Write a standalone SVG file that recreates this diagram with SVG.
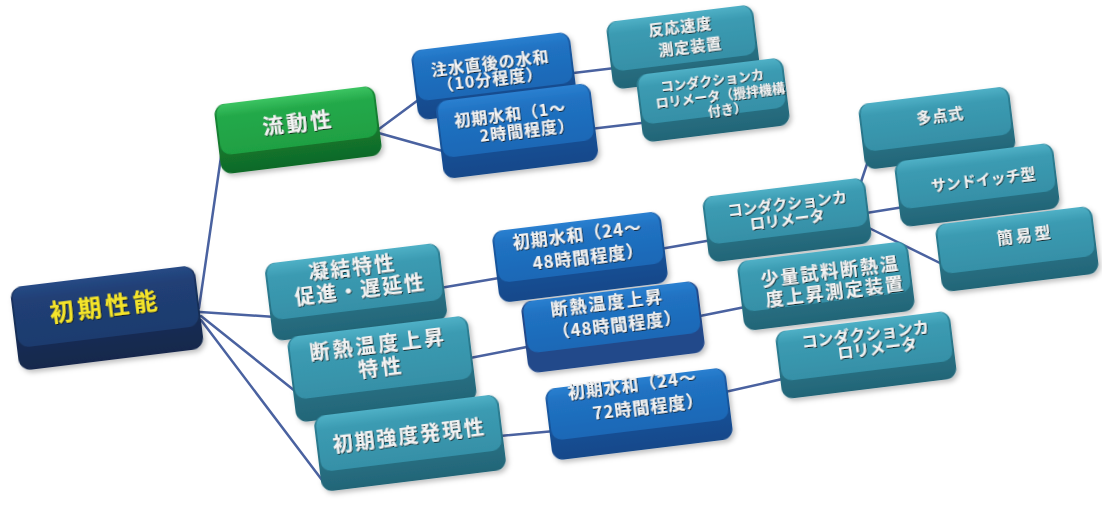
<svg xmlns="http://www.w3.org/2000/svg" width="1102" height="505" viewBox="0 0 1102 505">
<defs>
<linearGradient id="gTealTop" x1="0" y1="0" x2="0" y2="1"><stop offset="0" stop-color="#4fb0c6"/><stop offset="0.25" stop-color="#3b9bb2"/><stop offset="1" stop-color="#3690a7"/></linearGradient>
<linearGradient id="gTealBase" x1="0" y1="0" x2="0" y2="1"><stop offset="0" stop-color="#2f8499"/><stop offset="1" stop-color="#236577"/></linearGradient>
<linearGradient id="gBlueTop" x1="0" y1="0" x2="0" y2="1"><stop offset="0" stop-color="#2a80d0"/><stop offset="0.25" stop-color="#2072c2"/><stop offset="1" stop-color="#1d68b6"/></linearGradient>
<linearGradient id="gBlueBase" x1="0" y1="0" x2="0" y2="1"><stop offset="0" stop-color="#1b5ea8"/><stop offset="1" stop-color="#16488a"/></linearGradient>
<linearGradient id="gNavyTop" x1="0" y1="0" x2="0" y2="1"><stop offset="0" stop-color="#264a85"/><stop offset="0.25" stop-color="#203f75"/><stop offset="1" stop-color="#1e3b6e"/></linearGradient>
<linearGradient id="gNavyBase" x1="0" y1="0" x2="0" y2="1"><stop offset="0" stop-color="#1b3563"/><stop offset="1" stop-color="#14284c"/></linearGradient>
<linearGradient id="gGreenTop" x1="0" y1="0" x2="0" y2="1"><stop offset="0" stop-color="#3cc462"/><stop offset="0.25" stop-color="#24a94a"/><stop offset="1" stop-color="#1fa043"/></linearGradient>
<linearGradient id="gGreenBase" x1="0" y1="0" x2="0" y2="1"><stop offset="0" stop-color="#188c37"/><stop offset="1" stop-color="#106a28"/></linearGradient>
<filter id="tsh" x="-10%" y="-30%" width="120%" height="160%"><feDropShadow dx="0.8" dy="1" stdDeviation="0.6" flood-color="#111" flood-opacity="0.85"/></filter>
<filter id="bsh" x="-10%" y="-10%" width="125%" height="135%"><feDropShadow dx="2" dy="3" stdDeviation="2.5" flood-color="#000" flood-opacity="0.25"/></filter>
</defs>
<style>
.cn{stroke:#4a62a0;stroke-width:2.5;stroke-linecap:round;fill:none}
.t{font-family:"Noto Sans CJK JP","Noto Sans",sans-serif;font-weight:bold;fill:#f2f2f2;text-anchor:middle;dominant-baseline:central;filter:url(#tsh)}
.teal .b{fill:url(#gTealBase)} .teal .f{fill:url(#gTealTop)}
.blue .b{fill:url(#gBlueBase)} .blue .f{fill:url(#gBlueTop)}
.navy .b{fill:url(#gNavyBase)} .navy .f{fill:url(#gNavyTop)}
.green .b{fill:url(#gGreenBase)} .green .f{fill:url(#gGreenTop)}
.box{filter:url(#bsh)}
</style>
<rect width="1102" height="505" fill="#ffffff"/>
<g id="connectors">
<line class="cn" x1="199" y1="308" x2="222" y2="150"/>
<line class="cn" x1="200" y1="312" x2="275" y2="317"/>
<line class="cn" x1="201" y1="316" x2="300" y2="395"/>
<line class="cn" x1="201" y1="320" x2="322" y2="480"/>
<line class="cn" x1="375" y1="132" x2="425" y2="95"/>
<line class="cn" x1="375" y1="132" x2="450" y2="153"/>
<line class="cn" x1="565" y1="74" x2="615" y2="68"/>
<line class="cn" x1="590" y1="129" x2="650" y2="122"/>
<line class="cn" x1="440" y1="288" x2="505" y2="277"/>
<line class="cn" x1="470" y1="358" x2="532" y2="346"/>
<line class="cn" x1="500" y1="436" x2="555" y2="431"/>
<line class="cn" x1="660" y1="249" x2="718" y2="239"/>
<line class="cn" x1="700" y1="316" x2="745" y2="307"/>
<line class="cn" x1="725" y1="392" x2="800" y2="375"/>
<line class="cn" x1="855" y1="200" x2="875" y2="140"/>
<line class="cn" x1="860" y1="214" x2="910" y2="206"/>
<line class="cn" x1="865" y1="226" x2="950" y2="268"/>
</g>

<g id="n-ryudosei" class="green">
<g class="box" transform="translate(298,130) rotate(-7)"><rect class="b" x="-81" y="-35" width="162" height="70" rx="11"/><rect class="f" x="-79" y="-35" width="158" height="51" rx="10"/></g>
<text class="t" font-size="21" letter-spacing="3" x="298" y="121" transform="rotate(-7 298 121)">流動性</text>
</g>

<g id="n-chusui" class="blue">
<g class="box" transform="translate(494,76) rotate(-7)"><rect class="b" x="-80" y="-35" width="160" height="70" rx="11"/><rect class="f" x="-78" y="-35" width="156" height="51" rx="10"/></g>
<text class="t" font-size="16" letter-spacing="1" x="490" y="62" transform="rotate(-7 490 62)">注水直後の水和</text>
<text class="t" font-size="16" letter-spacing="1" x="490" y="78" transform="rotate(-7 490 78)">（10分程度）</text>
</g>

<g id="n-shoki12" class="blue">
<g class="box" transform="translate(517,131) rotate(-7)"><rect class="b" x="-78" y="-39" width="156" height="78" rx="11"/><rect class="f" x="-76" y="-39" width="152" height="57" rx="10"/></g>
<text class="t" font-size="16" letter-spacing="1" x="510" y="113" transform="rotate(-7 510 113)">初期水和（1～</text>
<text class="t" font-size="16" letter-spacing="1" x="527" y="129" transform="rotate(-7 527 129)">2時間程度）</text>
</g>

<g id="n-hanno" class="teal">
<g class="box" transform="translate(683,47) rotate(-7)"><rect class="b" x="-74" y="-34" width="148" height="68" rx="11"/><rect class="f" x="-72" y="-34" width="144" height="50" rx="10"/></g>
<text class="t" font-size="15" letter-spacing="1" x="680" y="25" transform="rotate(-7 680 25)">反応速度</text>
<text class="t" font-size="15" letter-spacing="1" x="690" y="45" transform="rotate(-7 690 45)">測定装置</text>
</g>

<g id="n-conda-kakuhan" class="teal">
<g class="box" transform="translate(713,100) rotate(-7)"><rect class="b" x="-74" y="-34" width="148" height="68" rx="11"/><rect class="f" x="-72" y="-34" width="144" height="50" rx="10"/></g>
<text class="t" font-size="13" x="712" y="79" transform="rotate(-7 712 79)">コンダクションカ</text>
<text class="t" font-size="13" x="720" y="94" transform="rotate(-7 720 94)">ロリメータ（攪拌機構</text>
<text class="t" font-size="13" x="727" y="108" transform="rotate(-7 727 108)">付き）</text>
</g>

<g id="n-taten" class="teal">
<g class="box" transform="translate(937,128) rotate(-7)"><rect class="b" x="-76" y="-33" width="152" height="66" rx="11"/><rect class="f" x="-74" y="-33" width="148" height="48" rx="10"/></g>
<text class="t" font-size="15" letter-spacing="1" x="940" y="114" transform="rotate(-7 940 114)">多点式</text>
</g>

<g id="n-sandwich" class="teal">
<g class="box" transform="translate(977,185) rotate(-7)"><rect class="b" x="-80" y="-33" width="160" height="66" rx="11"/><rect class="f" x="-78" y="-33" width="156" height="48" rx="10"/></g>
<text class="t" font-size="15" x="983" y="178" transform="rotate(-7 983 178)">サンドイッチ型</text>
</g>

<g id="n-kan-i" class="teal">
<g class="box" transform="translate(1017,249) rotate(-7)"><rect class="b" x="-79" y="-34" width="158" height="68" rx="11"/><rect class="f" x="-77" y="-34" width="154" height="50" rx="10"/></g>
<text class="t" font-size="16" letter-spacing="3" x="1025" y="234" transform="rotate(-7 1025 234)">簡易型</text>
</g>

<g id="n-root" class="navy">
<g class="box" transform="translate(107,318) rotate(-7)"><rect class="b" x="-93" y="-42" width="186" height="84" rx="12"/><rect class="f" x="-91" y="-42" width="182" height="61" rx="11"/></g>
<text class="t" font-size="24" letter-spacing="4" style="fill:#f4e42c" x="105" y="304" transform="rotate(-7 105 304)">初期性能</text>
</g>

<g id="n-gyoketsu" class="teal">
<g class="box" transform="translate(356,292) rotate(-7)"><rect class="b" x="-88" y="-39" width="176" height="78" rx="11"/><rect class="f" x="-86" y="-39" width="172" height="57" rx="10"/></g>
<text class="t" font-size="20" letter-spacing="2" x="352" y="266" transform="rotate(-7 352 266)">凝結特性</text>
<text class="t" font-size="20" letter-spacing="2" x="360" y="288" transform="rotate(-7 360 288)">促進・遅延性</text>
</g>

<g id="n-dannetsu" class="teal">
<g class="box" transform="translate(382,369) rotate(-7)"><rect class="b" x="-91" y="-43" width="182" height="86" rx="11"/><rect class="f" x="-89" y="-43" width="178" height="63" rx="10"/></g>
<text class="t" font-size="20" letter-spacing="3" x="378" y="343" transform="rotate(-7 378 343)">断熱温度上昇</text>
<text class="t" font-size="20" letter-spacing="3" x="381" y="366" transform="rotate(-7 381 366)">特性</text>
</g>

<g id="n-kyodo" class="teal">
<g class="box" transform="translate(410,443) rotate(-7)"><rect class="b" x="-93" y="-38" width="186" height="76" rx="11"/><rect class="f" x="-91" y="-38" width="182" height="56" rx="10"/></g>
<text class="t" font-size="20" letter-spacing="2" x="409" y="434" transform="rotate(-7 409 434)">初期強度発現性</text>
</g>

<g id="n-shoki48" class="blue">
<g class="box" transform="translate(580,257) rotate(-7)"><rect class="b" x="-85" y="-36" width="170" height="72" rx="11"/><rect class="f" x="-83" y="-36" width="166" height="52" rx="10"/></g>
<text class="t" font-size="17" letter-spacing="1" x="577" y="233" transform="rotate(-7 577 233)">初期水和（24～</text>
<text class="t" font-size="17" letter-spacing="1" x="588" y="255" transform="rotate(-7 588 255)">48時間程度）</text>
</g>

<g id="n-dannetsu48" class="blue">
<g class="box" transform="translate(613,327) rotate(-7)"><rect class="b" x="-89" y="-36" width="178" height="72" rx="11" style="fill:#23488a"/><rect class="f" x="-87" y="-36" width="174" height="52" rx="10"/></g>
<text class="t" font-size="17" letter-spacing="2" x="607" y="301" transform="rotate(-7 607 301)">断熱温度上昇</text>
<text class="t" font-size="17" letter-spacing="1" x="617" y="323" transform="rotate(-7 617 323)">（48時間程度）</text>
</g>

<g id="n-shoki72" class="blue">
<g class="box" transform="translate(639,414) rotate(-7)"><rect class="b" x="-91" y="-36" width="182" height="72" rx="11"/><rect class="f" x="-89" y="-36" width="178" height="52" rx="10"/></g>
<text class="t" font-size="17" letter-spacing="1" x="632" y="383" transform="rotate(-7 632 383)">初期水和（24～</text>
<text class="t" font-size="17" letter-spacing="1" x="648" y="405" transform="rotate(-7 648 405)">72時間程度）</text>
</g>

<g id="n-conda-upper" class="teal">
<g class="box" transform="translate(787,220) rotate(-7)"><rect class="b" x="-82" y="-33" width="164" height="66" rx="11"/><rect class="f" x="-80" y="-33" width="160" height="48" rx="10"/></g>
<text class="t" font-size="15" x="787" y="202" transform="rotate(-7 787 202)">コンダクションカ</text>
<text class="t" font-size="15" x="787" y="218" transform="rotate(-7 787 218)">ロリメータ</text>
</g>

<g id="n-shoryo" class="teal">
<g class="box" transform="translate(826,286) rotate(-7)"><rect class="b" x="-86" y="-35" width="172" height="70" rx="11"/><rect class="f" x="-84" y="-35" width="168" height="51" rx="10"/></g>
<text class="t" font-size="18" letter-spacing="2" x="830" y="270" transform="rotate(-7 830 270)">少量試料断熱温</text>
<text class="t" font-size="18" letter-spacing="2" x="835" y="290" transform="rotate(-7 835 290)">度上昇測定装置</text>
</g>

<g id="n-conda-lower" class="teal">
<g class="box" transform="translate(866,355) rotate(-7)"><rect class="b" x="-88" y="-34" width="176" height="68" rx="11"/><rect class="f" x="-86" y="-34" width="172" height="50" rx="10"/></g>
<text class="t" font-size="16" x="865" y="333" transform="rotate(-7 865 333)">コンダクションカ</text>
<text class="t" font-size="16" x="877" y="347" transform="rotate(-7 877 347)">ロリメータ</text>
</g>
</svg>
